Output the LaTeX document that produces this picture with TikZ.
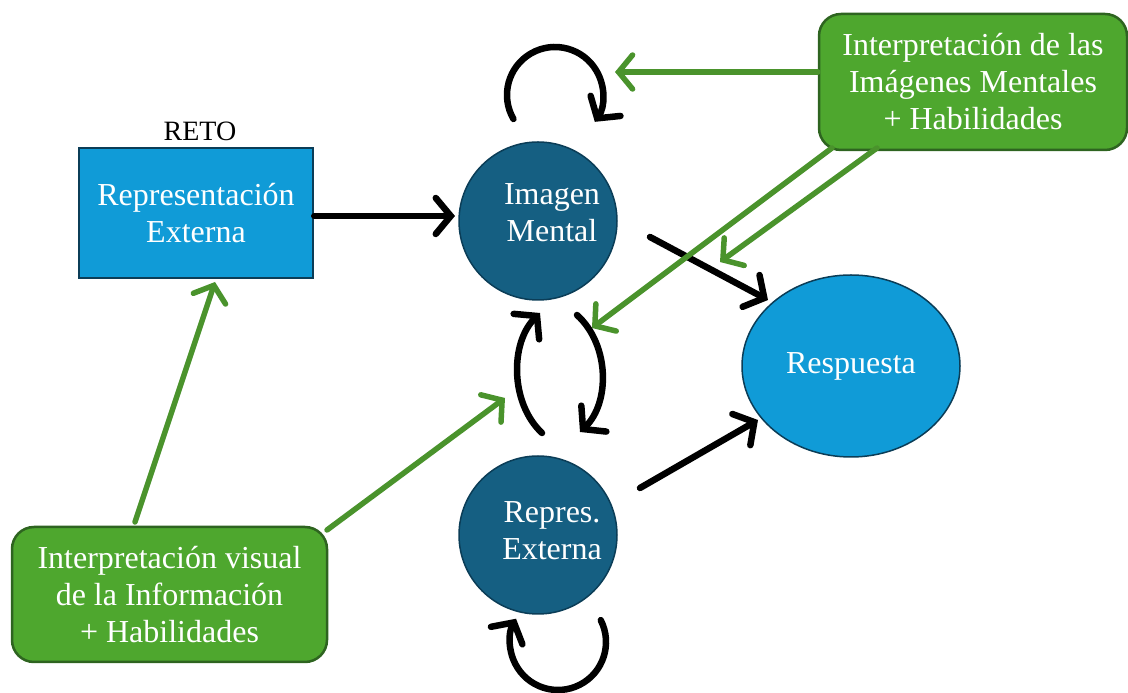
\documentclass[tikz,border=0pt]{standalone}
\usepackage{fontspec}
\setmainfont{Liberation Serif}
\usetikzlibrary{arrows.meta,calc,shapes.geometric}
\definecolor{lblue}{HTML}{109BD7}
\definecolor{dblue}{HTML}{155F82}
\definecolor{edgeblue}{HTML}{0B3D57}
\definecolor{gfill}{HTML}{4EA72E}
\definecolor{gedge}{HTML}{2E6420}
\definecolor{gline}{HTML}{4A932C}
\newcommand{\rs}{\hspace*{28pt}}
\begin{document}
\begin{tikzpicture}[x=1pt,y=1pt,
  txt/.style={font=\fontsize{32}{37}\selectfont, text=white, align=center},
  rectbox/.style={txt, draw=edgeblue, line width=2.5pt, fill=lblue, minimum width=234pt, minimum height=130pt, inner sep=0pt},
  darkcirc/.style={txt, circle, draw=edgeblue, line width=1.5pt, fill=dblue, minimum size=158pt, inner sep=0pt, text depth=16pt},
  ansell/.style={txt, ellipse, draw=edgeblue, line width=1.5pt, fill=lblue, minimum width=218pt, minimum height=182pt, inner sep=0pt},
  greenbox/.style={txt, draw=gedge, line width=2.5pt, fill=gfill, rounded corners=22pt, inner sep=0pt},
  blk/.style={draw=black, line width=6.5pt, line cap=round, -{Straight Barb[length=15pt,width=36pt,line cap=round]}},
  grn/.style={draw=gline, line width=5.5pt, line cap=round, -{Straight Barb[length=14pt,width=34pt,line cap=round]}}
]
\useasboundingbox (0,0) rectangle (1128,693);

\node[rectbox] (rep) at (196,480) {Representación\\Externa};
\node[font=\fontsize{28}{34}\selectfont] (reto) at (200,562) {RETO};
\node[darkcirc] (im) at (538,472) {\rs Imagen\\\rs Mental};
\node[darkcirc, text depth=9pt] (re) at (538,158) {\rs Repres.\\\rs Externa};
\node[ansell] (resp) at (851,327) {Respuesta};
\node[greenbox, minimum width=308pt, minimum height=136pt] (gtr) at (973,611) {Interpretación de las\\Imágenes Mentales\\+ Habilidades};
\node[greenbox, minimum width=315pt, minimum height=135pt] (gbl) at (169.5,98.5) {Interpretación visual\\de la Información\\+ Habilidades};

% black connectors
\coordinate (a1) at (455,477);
\draw[blk] (rep.east |- a1) -- (a1);
\coordinate (b0) at (650,456);
\coordinate (b1) at (768,393);
\draw[blk] (b0) -- (b1);
\coordinate (c0) at (640,205);
\coordinate (c1) at (758,273);
\draw[blk] (c0) -- (c1);

% loops
\coordinate (t0) at ($(555,598)+(210:48)$);
\draw[blk] (t0) arc[start angle=210, end angle=-34, radius=48];
\coordinate (u0) at ($(558,51)+(27:48)$);
\draw[blk] (u0) arc[start angle=27, end angle=-209, radius=48];

% middle arcs
\coordinate (m0) at (542,260);
\coordinate (m1) at (540,380);
\draw[blk] (m0) .. controls (510,290) and (510,350) .. (m1);
\coordinate (n0) at (577,378);
\coordinate (n1) at (580,261);
\draw[blk] (n0) .. controls (610,348) and (610,290) .. (n1);

% green connectors
\coordinate (g1) at (615,621);
\draw[grn] (gtr.west |- g1) -- (g1);
\coordinate (g2s) at (877,545);
\coordinate (g2) at (720,431);
\draw[grn] (g2s) -- (g2);
\coordinate (g3s) at (832,545);
\coordinate (g3) at (592,365);
\draw[grn] (g3s) -- (g3);
\coordinate (g4s) at (135,171);
\coordinate (g4) at (215,411);
\draw[grn] (g4s) -- (g4);
\coordinate (g5s) at (327,163);
\coordinate (g5) at (505,295);
\draw[grn] (g5s) -- (g5);
\end{tikzpicture}
\end{document}
